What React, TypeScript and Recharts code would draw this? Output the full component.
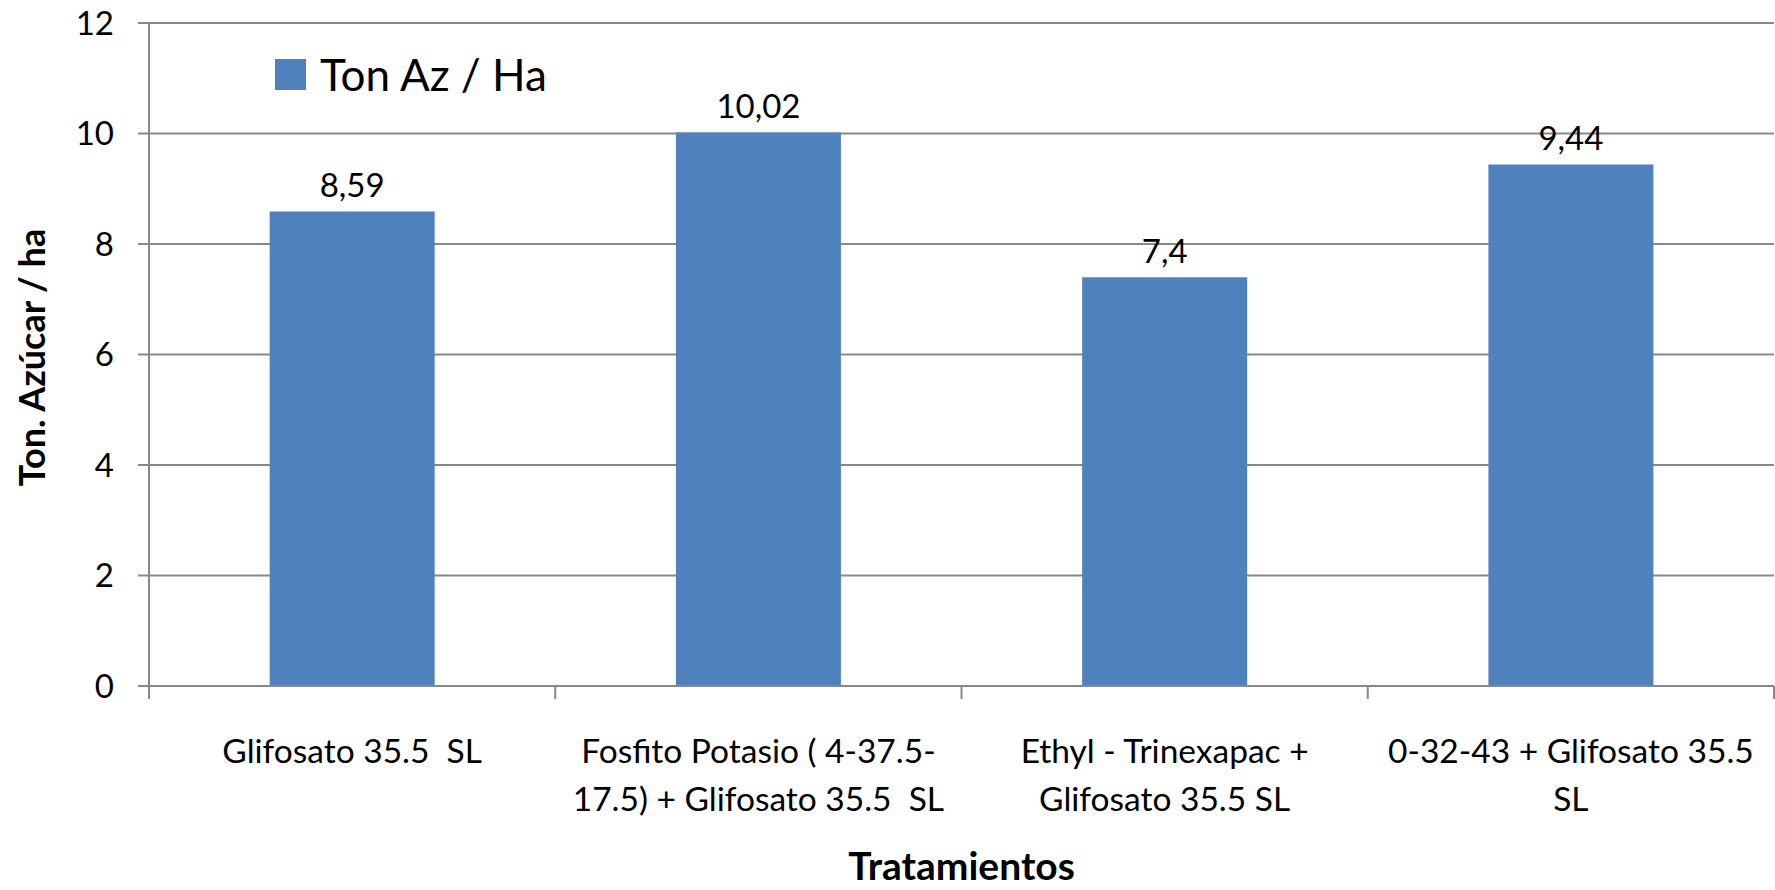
import React from 'react';
import { BarChart, Bar, XAxis, YAxis, CartesianGrid, LabelList, Legend, Label } from 'recharts';

// ---- data ----
const categories = [
  'Glifosato 35.5 SL',
  'Fosfito Potasio ( 4-37.5-17.5) + Glifosato 35.5 SL',
  'Ethyl - Trinexapac + Glifosato 35.5 SL',
  '0-32-43 + Glifosato 35.5 SL',
];
const tickLines = [
  ['Glifosato 35.5  SL'],
  ['Fosfito Potasio ( 4-37.5-', '17.5) + Glifosato 35.5  SL'],
  ['Ethyl - Trinexapac +', 'Glifosato 35.5 SL'],
  ['0-32-43 + Glifosato 35.5', 'SL'],
];
const tonAzHa = [8.59, 10.02, 7.4, 9.44];
const yTicks = [0, 2, 4, 6, 8, 10, 12];
const seriesName = 'Ton Az / Ha';
const xTitle = 'Tratamientos';
const yTitle = 'Ton. Azúcar / ha';

// ---- layout / style ----
const W = 1775;
const H = 890;
const MARGIN = { top: 23, right: 1, bottom: 0, left: 0 };
const Y_AXIS_W = 149;
const X_AXIS_H = 204;
const BAND = (W - MARGIN.left - MARGIN.right - Y_AXIS_W) / categories.length;
const FONT = 'Lato, "Open Sans", "Noto Sans", sans-serif';
const BLUE = '#4F81BD';
const GRAY = '#888888';

const data = categories.map((name, i) => ({ name, value: tonAzHa[i] }));

const XTick = (props: any) => {
  const { x, y, index, payload } = props;
  const lines = tickLines[index] ?? [String(payload.value)];
  const half = BAND / 2;
  return (
    <g>
      <line x1={x - half} x2={x - half} y1={y} y2={y + 13} stroke={GRAY} strokeWidth={2} />
      {index === categories.length - 1 && (
        <line x1={x + half} x2={x + half} y1={y} y2={y + 13} stroke={GRAY} strokeWidth={2} />
      )}
      <text x={x} y={y + 77} textAnchor="middle" fontFamily={FONT} fontSize={33.5} fill="#000" style={{ whiteSpace: 'pre' }}>
        {lines.map((l, i) => (
          <tspan key={i} x={x} dy={i === 0 ? 0 : 48}>
            {l}
          </tspan>
        ))}
      </text>
    </g>
  );
};

const ValueLabel = (props: any) => {
  const { x, y, width, value } = props;
  return (
    <text x={x + width / 2} y={y - 14} textAnchor="middle" fontFamily={FONT} fontSize={33} fill="#000">
      {String(value).replace('.', ',')}
    </text>
  );
};

const LegendContent = (props: any) => {
  const item = (props.payload && props.payload[0]) || { value: seriesName, color: BLUE };
  return (
    <div style={{ display: 'flex', alignItems: 'center', fontFamily: FONT, fontSize: 44, color: '#000', whiteSpace: 'nowrap' }}>
      <div style={{ width: 31, height: 31, background: item.color || BLUE, marginRight: 14 }} />
      <span style={{ lineHeight: '44px' }}>{item.value}</span>
    </div>
  );
};

export default function App() {
  return (
    <div style={{ position: 'absolute', left: 0, top: 0, width: W, height: H, background: '#fff' }}>
      <BarChart width={W} height={H} data={data} margin={MARGIN} barCategoryGap="29.7%">
        <CartesianGrid vertical={false} stroke={GRAY} strokeWidth={2} />
        <XAxis
          dataKey="name"
          height={X_AXIS_H}
          interval={0}
          tickLine={false}
          tickSize={0}
          tickMargin={0}
          axisLine={{ stroke: GRAY, strokeWidth: 2 }}
          tick={<XTick />}
        >
          <Label
            content={(p: any) => {
              const vb = p.viewBox || {};
              return (
                <text x={vb.x + vb.width / 2} y={vb.y + 194} textAnchor="middle" fontFamily={FONT} fontWeight="bold" fontSize={39} fill="#000">
                  {xTitle}
                </text>
              );
            }}
          />
        </XAxis>
        <YAxis
          width={Y_AXIS_W}
          domain={[0, 12]}
          ticks={yTicks}
          interval={0}
          tickSize={11}
          tickMargin={24}
          axisLine={{ stroke: GRAY, strokeWidth: 2 }}
          tickLine={{ stroke: GRAY, strokeWidth: 2 }}
          tick={{ fontFamily: FONT, fontSize: 33, fill: '#000' }}
        >
          <Label
            content={(p: any) => {
              const vb = p.viewBox || {};
              const cy = vb.y + vb.height / 2 + 3;
              return (
                <text transform={`translate(${vb.x + 32}, ${cy}) rotate(-90)`} x={0} y={0} dy="0.36em" textAnchor="middle" fontFamily={FONT} fontWeight="bold" fontSize={36} fill="#000">
                  {yTitle}
                </text>
              );
            }}
          />
        </YAxis>
        <Legend
          layout="horizontal"
          verticalAlign="middle"
          align="center"
          content={<LegendContent />}
          wrapperStyle={{ position: 'absolute', left: 275, top: 52, width: 'auto', height: 'auto' }}
        />
        <Bar dataKey="value" name={seriesName} fill={BLUE} isAnimationActive={false}>
          <LabelList dataKey="value" content={<ValueLabel />} />
        </Bar>
      </BarChart>
    </div>
  );
}
